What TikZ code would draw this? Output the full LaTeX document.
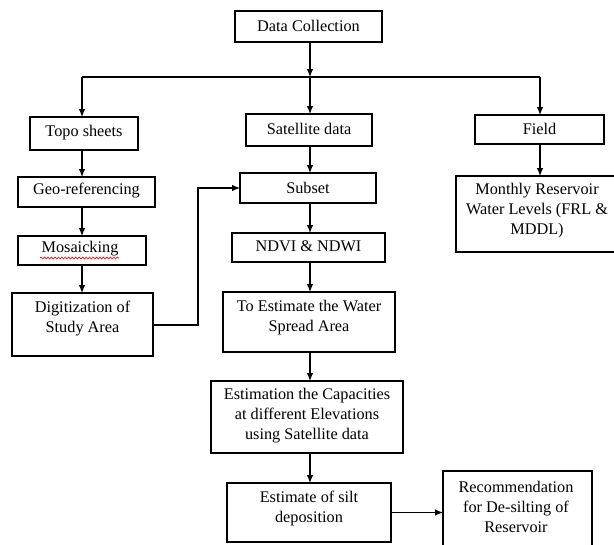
\documentclass[tikz,border=0pt]{standalone}
\usepackage{fontspec}
\setmainfont{Liberation Serif}
\usetikzlibrary{arrows.meta,decorations.pathmorphing}
\tikzset{
  box/.style={draw, line width=1.6pt, inner sep=0pt, outer sep=0pt},
  lbl/.style={font=\fontsize{12.2}{15}\selectfont, align=center, inner sep=0pt},
  arr/.style={line width=0.9pt, -{Latex[length=6pt,width=5pt]}},
  ln/.style={line width=0.9pt},
  squiggle/.style={red, line width=0.5pt, decorate, decoration={snake, amplitude=0.7pt, segment length=2.6pt}}
}
\newcommand\mybox[5]{%
  \node[box, minimum width={(#4-#2)*0.75pt}, minimum height={(#5-#3)*0.75pt}] (#1) at ({(#2+#4)/2},{(#3+#5)/2}) {};}
\begin{document}
\begin{tikzpicture}[x=0.75pt,y=-0.75pt]
\path[use as bounding box] (0,0) rectangle (614,544);
\clip (0,0) rectangle (614,544);

% boxes
\mybox{dc}{235}{11}{382}{42}
\mybox{topo}{30}{117}{138}{150}
\mybox{sat}{246}{114}{372}{146}
\mybox{field}{475}{115}{604}{144}
\mybox{geo}{18}{177}{155}{207}
\mybox{subset}{240}{173}{376}{203}
\mybox{monthly}{456}{176}{640}{252}
\mybox{mos}{18}{236}{146}{265}
\mybox{ndvi}{232}{233}{385}{262}
\mybox{dig}{12}{293}{153}{356}
\mybox{toest}{223}{292}{395}{352}
\mybox{estcap}{211}{381}{403}{453}
\mybox{silt}{227}{483}{391}{542}
\mybox{rec}{443}{471}{592}{570}

% labels
\node[lbl] (tdc) at (308.5,25.5) {Data Collection};
\node[lbl] (ttopo) at (84,132.5) {Topo sheets};
\node[lbl] (tsat) at (309,129) {Satellite data};
\node[lbl] (tfield) at (539.5,128.5) {Field};
\node[lbl] (tgeo) at (86.5,191) {Geo-referencing};
\node[lbl] (tsubset) at (308,187.5) {Subset};
\node[lbl] (tmonthly) at (537,211) {Monthly Reservoir\\Water Levels (FRL \&\\MDDL)};
\node[lbl] (tmos) at (80,249) {Mosaicking};
\node[lbl] (tndvi) at (308.5,246.5) {NDVI \& NDWI};
\node[lbl] (tdig) at (82.5,319) {Digitization of\\Study Area};
\node[lbl] (ttoest) at (309,318) {To Estimate the Water\\Spread Area};
\node[lbl] (testcap) at (307,415.5) {Estimation the Capacities\\at different Elevations\\using Satellite data};
\node[lbl] (tsilt) at (309,508) {Estimate of silt\\deposition};
\node[lbl] (trec) at (516,506.5) {Recommendation\\for De-silting of\\Reservoir};

\draw[squiggle] (40,258) -- (119,258);

% junction points
\coordinate (j) at (310,77);
\coordinate (jl) at (82,77);
\coordinate (jr) at (540,77);
\coordinate (bend) at (198,325);

% connectors
\draw[arr] (dc.south -| j) -- (j);
\draw[ln] (jl) -- (jr);
\draw[arr] (jl) -- (jl |- topo.north);
\draw[arr] (j) -- (j |- sat.north);
\draw[arr] (jr) -- (jr |- field.north);

\draw[arr] (topo.south -| jl) -- (jl |- geo.north);
\draw[arr] (geo.south -| jl) -- (jl |- mos.north);
\draw[arr] (mos.south -| jl) -- (jl |- dig.north);

\draw[arr] (dig.east |- bend) -- (bend) |- (subset.west);

\draw[arr] (sat.south -| j) -- (j |- subset.north);
\draw[arr] (subset.south -| j) -- (j |- ndvi.north);
\draw[arr] (ndvi.south -| j) -- (j |- toest.north);
\draw[arr] (toest.south -| j) -- (j |- estcap.north);
\draw[arr] (estcap.south -| j) -- (j |- silt.north);
\draw[arr] (silt.east) -- (silt.east -| rec.west);

\draw[arr] (field.south -| jr) -- (jr |- monthly.north);
\end{tikzpicture}
\end{document}
